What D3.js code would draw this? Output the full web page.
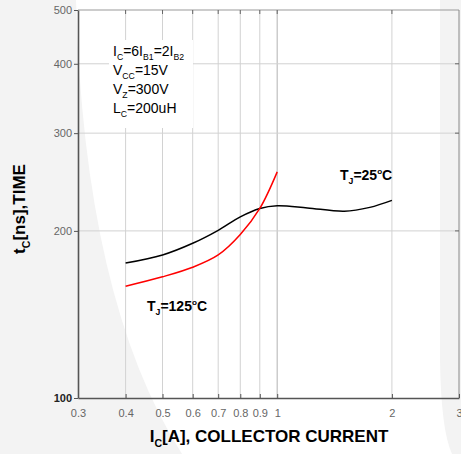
<!DOCTYPE html>
<html>
<head>
<meta charset="utf-8">
<script src="https://cdn.jsdelivr.net/npm/d3@7"></script>
<style>
  html, body { margin: 0; padding: 0; background: #fff; }
  svg { display: block; font-family: "Liberation Sans", Arial, sans-serif; }
</style>
</head>
<body>
<svg id="chart" width="461" height="454"></svg>
<script>
// ---- data ----
const xTickValues = [0.3, 0.4, 0.5, 0.6, 0.7, 0.8, 0.9, 1, 2, 3];
const xTickLabels = ["0.3", "0.4", "0.5", "0.6", "0.7", "0.8", "0.9", "1", "2", "3"];
const xGridValues = [0.4, 0.5, 0.6, 0.7, 0.8, 0.9, 1, 2];
const yTickValues = [100, 200, 300, 400, 500];
const yTickLabels = ["100", "200", "300", "400", "500"];
const yGridValues = [200, 300, 400];

const ic25 = [0.4, 0.5, 0.6, 0.7, 0.8, 0.9, 1.0, 1.2, 1.5, 1.75, 2.0];
const tc25 = [175, 181, 190, 200.5, 212, 219.5, 222, 220, 217, 220.5, 227];
const ic125 = [0.4, 0.5, 0.6, 0.7, 0.8, 0.9, 1.0];
const tc125 = [159, 165.3, 172, 181, 197, 219.5, 255.5];

const svg = d3.select("#chart");
const W = 461, H = 454;
const L = 78, R = 459, T = 10, B = 398;

// ---- background watermark (approximate) ----
svg.append("rect").attr("width", W).attr("height", H).attr("fill", "#f3f3f3");
svg.append("path")
  .attr("d", "M76,0 L440,0 L440,360 Q441,430 452,454 L182,454 Q84,300 76,0 Z")
  .attr("fill", "#ffffff");

const x = d3.scaleLog().domain([0.3, 3]).range([L, R]);
const y = d3.scaleLog().domain([100, 500]).range([B, T]);

// ---- grid ----
const grid = svg.append("g");
grid.selectAll("line.gx").data(xGridValues).join("line")
  .attr("x1", d => x(d)).attr("x2", d => x(d))
  .attr("y1", T).attr("y2", B)
  .attr("stroke", d => d === 1 ? "#c4c4c4" : "#d2d2d2")
  .attr("stroke-width", d => d === 1 ? 1.3 : 1);
grid.selectAll("line.gy").data(yGridValues).join("line")
  .attr("x1", L).attr("x2", R)
  .attr("y1", d => y(d)).attr("y2", d => y(d))
  .attr("stroke", "#d2d2d2").attr("stroke-width", 1);

// ---- annotation box ----
svg.append("rect").attr("x", 109).attr("y", 40).attr("width", 84).attr("height", 88).attr("fill", "#fff");

function rich(g, xPos, yPos, parts, size, weight) {
  const t = g.append("text").attr("x", xPos).attr("y", yPos)
    .attr("font-size", size).attr("font-weight", weight).attr("fill", "#000");
  let shift = 0;
  parts.forEach(p => {
    const s = t.append("tspan").text(p.t);
    let target = 0;
    if (p.sub) { s.attr("font-size", size * 0.62); target = size * 0.3; }
    else if (p.sup) { s.attr("font-size", size * 0.58); target = -size * 0.42; }
    s.attr("dy", target - shift);
    shift = target;
  });
  return t;
}

const ann = svg.append("g");
rich(ann, 113, 56, [{t:"I"},{t:"C",sub:1},{t:"=6I"},{t:"B1",sub:1},{t:"=2I"},{t:"B2",sub:1}], 14, "normal");
rich(ann, 113, 75, [{t:"V"},{t:"CC",sub:1},{t:"=15V"}], 14, "normal");
rich(ann, 113, 94, [{t:"V"},{t:"Z",sub:1},{t:"=300V"}], 14, "normal");
rich(ann, 113, 113, [{t:"L"},{t:"C",sub:1},{t:"=200uH"}], 14, "normal");

// ---- curves ----
const line = d3.line().x(d => x(d[0])).y(d => y(d[1])).curve(d3.curveCatmullRom.alpha(0.5));
svg.append("path").datum(d3.zip(ic25, tc25)).attr("d", line)
  .attr("fill", "none").attr("stroke", "#000").attr("stroke-width", 1.5);
svg.append("path").datum(d3.zip(ic125, tc125)).attr("d", line)
  .attr("fill", "none").attr("stroke", "#ff0000").attr("stroke-width", 1.5);

// ---- curve labels ----
rich(svg, 340, 180, [{t:"T"},{t:"J",sub:1},{t:"=25"},{t:"o",sup:1},{t:"C"}], 14, "bold");
rich(svg, 147, 311, [{t:"T"},{t:"J",sub:1},{t:"=125"},{t:"o",sup:1},{t:"C"}], 14, "bold");

// ---- frame ----
svg.append("line").attr("x1", L).attr("x2", R).attr("y1", T).attr("y2", T).attr("stroke", "#999").attr("stroke-width", 1);
svg.append("line").attr("x1", R).attr("x2", R).attr("y1", T).attr("y2", B).attr("stroke", "#888").attr("stroke-width", 1);

// top ticks (inward)
svg.selectAll("line.tt").data(xGridValues).join("line")
  .attr("x1", d => x(d)).attr("x2", d => x(d)).attr("y1", T).attr("y2", T + 4)
  .attr("stroke", "#666").attr("stroke-width", 1);
// right ticks (inward)
svg.selectAll("line.rt").data(yGridValues).join("line")
  .attr("x1", R).attr("x2", R - 4).attr("y1", d => y(d)).attr("y2", d => y(d))
  .attr("stroke", "#666").attr("stroke-width", 1);

// bottom axis
const xAxis = d3.axisBottom(x).tickValues(xTickValues)
  .tickFormat((d, i) => xTickLabels[i]).tickSizeInner(-4).tickSizeOuter(0).tickPadding(11);
const gx = svg.append("g").attr("transform", `translate(0,${B})`).call(xAxis);
gx.select(".domain").attr("stroke", "#555").attr("stroke-width", 1.6);
gx.selectAll(".tick line").attr("stroke", "#555");
gx.selectAll(".tick text").attr("font-size", 11).attr("fill", "#666")
  .attr("font-family", "Liberation Sans, Arial, sans-serif");

// left axis
const yAxis = d3.axisLeft(y).tickValues(yTickValues)
  .tickFormat((d, i) => yTickLabels[i]).tickSizeInner(4).tickSizeOuter(0).tickPadding(2);
const gy = svg.append("g").attr("transform", `translate(${L},0)`).call(yAxis);
gy.select(".domain").attr("stroke", "#555").attr("stroke-width", 1.6);
gy.selectAll(".tick line").attr("stroke", "#555");
gy.selectAll(".tick text").attr("font-size", 11)
  .attr("fill", d => d === 100 ? "#222" : "#666")
  .attr("font-weight", d => d === 100 ? "bold" : "normal")
  .attr("font-family", "Liberation Sans, Arial, sans-serif");

// ---- axis titles ----
const xt = rich(svg, 269, 442, [{t:"I"},{t:"C",sub:1},{t:"[A], COLLECTOR CURRENT"}], 17, "bold");
xt.attr("text-anchor", "middle");
const yt = rich(svg, 0, 0, [{t:"t"},{t:"C",sub:1},{t:"[ns],TIME"}], 17, "bold");
yt.attr("text-anchor", "middle").attr("transform", "translate(25,209) rotate(-90)");
</script>
</body>
</html>
